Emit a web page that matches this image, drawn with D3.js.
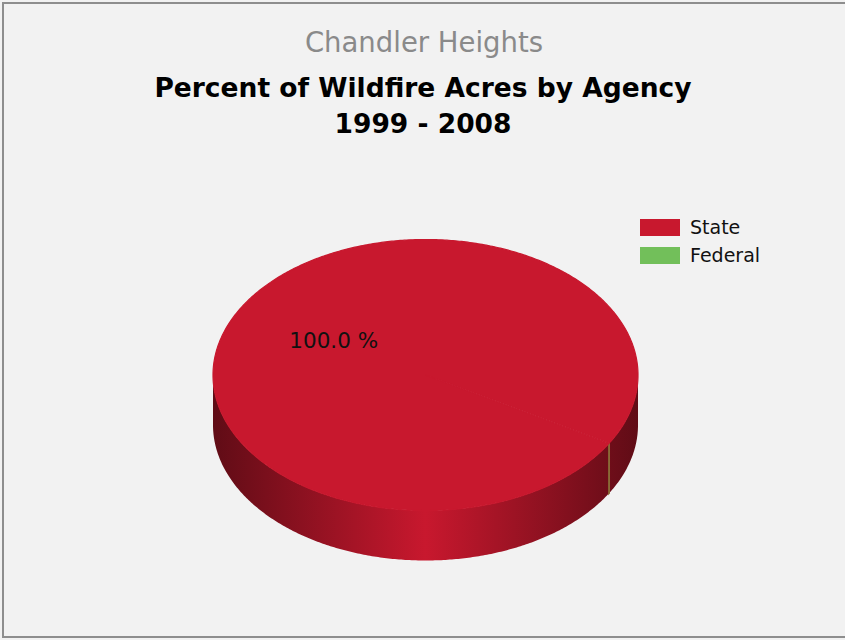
<!DOCTYPE html>
<html>
<head>
<meta charset="utf-8">
<script src="https://cdn.jsdelivr.net/npm/d3@7"></script>
<style>
  html, body { margin: 0; padding: 0; background: #f2f2f2; }
  svg { display: block; }
</style>
</head>
<body>
<svg id="chart" width="845" height="640"></svg>
<script>
// ---- data ----
const categories = ["State", "Federal"];
const values = [99.96, 0.04];
const colors = ["#c8182e", "#72bf5a"];
const subtitle = "Chandler Heights";
const titleLines = ["Percent of Wildfire Acres by Agency", "1999 - 2008"];

// ---- layout ----
const W = 845, H = 640;
const cx = 425.5, cy = 375, rx = 212.5, ry = 135.5, depth = 50;
const startAngle = 2.1;
const FONT = "'DejaVu Sans', sans-serif";

const svg = d3.select("#chart");
svg.append("rect").attr("x", 0).attr("y", 0).attr("width", W).attr("height", H).attr("fill", "#f2f2f2");
svg.append("rect").attr("x", 3).attr("y", 3).attr("width", W + 10).attr("height", 634)
  .attr("fill", "none").attr("stroke", "#8e8e8e").attr("stroke-width", 2);

// titles
svg.append("text").attr("x", 424).attr("y", 52).attr("text-anchor", "middle")
  .style("font-family", FONT)
  .style("font-size", "27.5px").attr("fill", "#8a8a8a").text(subtitle);
svg.append("text").attr("x", 423).attr("y", 97).attr("text-anchor", "middle")
  .style("font-family", FONT)
  .style("font-size", "26.5px").style("font-weight", "bold").attr("fill", "#000").text(titleLines[0]);
svg.append("text").attr("x", 423).attr("y", 133).attr("text-anchor", "middle")
  .style("font-family", FONT)
  .style("font-size", "26.5px").style("font-weight", "bold").attr("fill", "#000").text(titleLines[1]);

// pie
const pie = d3.pie().sort(null).startAngle(startAngle).endAngle(startAngle + 2 * Math.PI);
const arcs = pie(values);
const total = d3.sum(values);

const px = a => cx + rx * Math.sin(a);
const py = a => cy - ry * Math.cos(a);

function arcPoints(a0, a1, dy) {
  const n = Math.max(2, Math.ceil(Math.abs(a1 - a0) / 0.01));
  const pts = [];
  for (let i = 0; i <= n; i++) {
    const a = a0 + (a1 - a0) * i / n;
    pts.push([px(a), py(a) + dy]);
  }
  return pts;
}

// gradients for sides
const defs = svg.append("defs");
arcs.forEach((d, i) => {
  const base = d3.color(colors[i]);
  const dark = d3.interpolateRgb(base, "#000")(0.52);
  const mid = d3.interpolateRgb(base, "#000")(0.26);
  const g = defs.append("linearGradient").attr("id", "side" + i)
    .attr("gradientUnits", "userSpaceOnUse")
    .attr("x1", cx - rx).attr("x2", cx + rx).attr("y1", 0).attr("y2", 0);
  [[0, dark], [0.25, mid], [0.5, base.formatHex()], [0.75, mid], [1, dark]].forEach(s =>
    g.append("stop").attr("offset", s[0]).attr("stop-color", s[1]));
});

// visible side intervals: angles where cos(a) < 0
const sideG = svg.append("g");
const line = d3.line();
arcs.forEach((d, i) => {
  for (let k = -1; k <= 2; k++) {
    const v0 = Math.PI / 2 + 2 * Math.PI * k, v1 = 3 * Math.PI / 2 + 2 * Math.PI * k;
    const b0 = Math.max(v0, d.startAngle), b1 = Math.min(v1, d.endAngle);
    if (b1 > b0) {
      const top = arcPoints(b0, b1, 0);
      const bot = arcPoints(b1, b0, depth);
      const path = sideG.append("path").attr("d", line(top.concat(bot)) + "Z")
        .attr("fill", "url(#side" + i + ")");
      if (d.value / total < 0.005) {
        path.attr("stroke", "#8a6a35").attr("stroke-width", 1.6);
      }
    }
  }
});

// top faces (sub-pixel wedges are not visible on top)
const topG = svg.append("g");
arcs.forEach((d, i) => {
  if (d.value / total < 0.005) return;
  const pts = [[cx, cy]].concat(arcPoints(d.startAngle, d.endAngle, 0));
  topG.append("path").attr("d", line(pts) + "Z").attr("fill", colors[i])
    .attr("stroke", colors[i]).attr("stroke-width", 1.2).attr("stroke-linejoin", "round");
});

// labels
arcs.forEach((d, i) => {
  const pct = d.value / total * 100;
  if (pct < 1) return;
  const m = (d.startAngle + d.endAngle) / 2;
  svg.append("text")
    .attr("x", cx + 0.5 * rx * Math.sin(m))
    .attr("y", cy - 0.5 * ry * Math.cos(m))
    .attr("text-anchor", "middle").attr("dominant-baseline", "central")
    .style("font-family", FONT)
    .style("font-size", "21.5px").attr("fill", "#111")
    .text(d3.format(".1f")(pct) + " %");
});

// legend
const leg = svg.append("g").attr("transform", "translate(640,219)");
categories.forEach((c, i) => {
  const g = leg.append("g").attr("transform", `translate(0,${i * 28})`);
  g.append("rect").attr("width", 40).attr("height", 17).attr("fill", colors[i]);
  g.append("text").attr("x", 50).attr("y", 15)
    .style("font-family", FONT)
    .style("font-size", "19px").attr("fill", "#111").text(c);
});
</script>
</body>
</html>
